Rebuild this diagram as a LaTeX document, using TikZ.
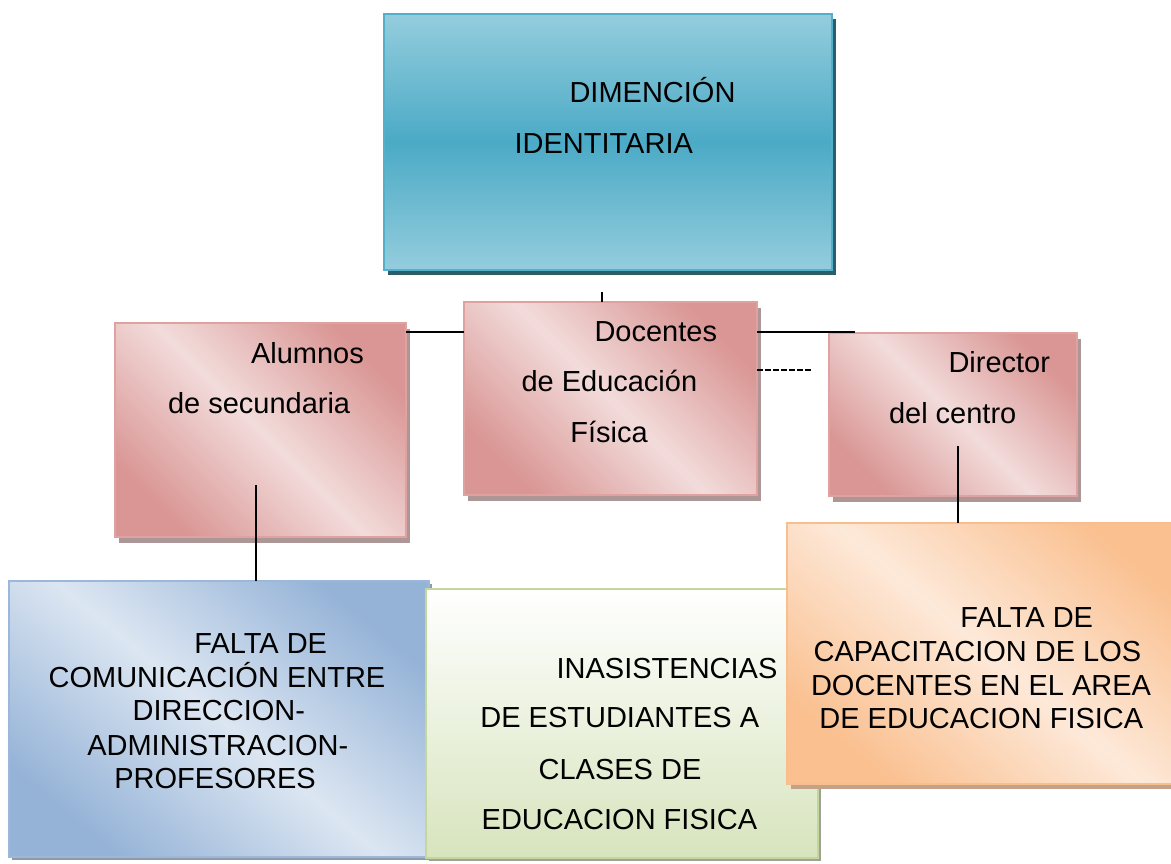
\documentclass[tikz,border=0pt]{standalone}
\usepackage{fontspec}
\setmainfont{Liberation Sans}
\usetikzlibrary{shadows}
\definecolor{topL}{HTML}{94CDDD}
\definecolor{topD}{HTML}{4BAAC6}
\definecolor{topB}{HTML}{52B0CA}
\definecolor{topS}{HTML}{2B5D6B}
\definecolor{pinkL}{HTML}{F2DCDB}
\definecolor{pinkD}{HTML}{D99694}
\definecolor{pinkB}{HTML}{DFA2A1}
\definecolor{pinkS}{HTML}{AC9696}
\definecolor{blueL}{HTML}{DCE6F2}
\definecolor{blueD}{HTML}{95B3D7}
\definecolor{blueB}{HTML}{9BB7DA}
\definecolor{blueS}{HTML}{8E9AA8}
\definecolor{greenD}{HTML}{D7E4BD}
\definecolor{greenB}{HTML}{C3D69B}
\definecolor{greenS}{HTML}{9EA294}
\definecolor{orL}{HTML}{FDE9D9}
\definecolor{orD}{HTML}{FAC090}
\definecolor{orB}{HTML}{F9BE8E}
\definecolor{orS}{HTML}{C4A28A}
\begin{document}
\begin{tikzpicture}[x=1pt,y=-1pt,
  box/.style={rectangle, inner sep=0pt, outer sep=0pt, line width=2pt, anchor=north west},
  topbox/.style={box, draw=topB, top color=topL, bottom color=topL, middle color=topD,
    drop shadow={shadow xshift=4pt, shadow yshift=-5pt, fill=topS, opacity=1}},
  pinkbox/.style={box, draw=pinkB, top color=pinkD, bottom color=pinkD, middle color=pinkL, shading angle=-45,
    drop shadow={shadow xshift=4pt, shadow yshift=-6pt, fill=pinkS, opacity=1}},
  bluebox/.style={box, draw=blueB, top color=blueD, bottom color=blueD, middle color=blueL, shading angle=-40,
    drop shadow={shadow xshift=3pt, shadow yshift=-3pt, fill=blueS, opacity=1}},
  greenbox/.style={box, draw=greenB, top color=white, bottom color=greenD,
    drop shadow={shadow xshift=3pt, shadow yshift=-3pt, fill=greenS, opacity=1}},
  orbox/.style={box, draw=orB, top color=orD, bottom color=orD, middle color=orL, shading angle=-40,
    drop shadow={shadow xshift=4pt, shadow yshift=-5pt, fill=orS, opacity=1}},
  txt/.style={inner sep=0pt, outer sep=0pt, anchor=base west, font=\fontsize{29}{34}\selectfont, text=black},
  link/.style={draw=black, line width=1.8pt},
  dlink/.style={link, dash pattern=on 5.5pt off 2.5pt}]
\useasboundingbox (0,0) rectangle (1171,864);
\clip (0,0) rectangle (1171,864);
\fill[white] (0,0) rectangle (1171,864);

% boxes
\node (top) [topbox, minimum width=448pt, minimum height=256pt] at (384,14) {};
\node (alumnos) [pinkbox, minimum width=291pt, minimum height=214pt] at (115,323) {};
\node (docentes) [pinkbox, minimum width=293pt, minimum height=193pt] at (464,302) {};
\node (director) [pinkbox, minimum width=248pt, minimum height=163pt] at (829,333) {};
\node (blue) [bluebox, minimum width=420pt, minimum height=276pt] at (9,581) {};
\node (green) [greenbox, minimum width=392pt, minimum height=269pt] at (426,589) {};
\node (orange) [orbox, minimum width=405pt, minimum height=261pt] at (787,523) {};

% connectors
\coordinate (stub) at (602,292);
\coordinate (y332) at (0,332);
\coordinate (y370) at (0,370);
\coordinate (rend) at (855,332);
\coordinate (dend) at (812,370);
\coordinate (astart) at (256,485);
\coordinate (dstart) at (958,446);
\draw[link] (stub) -- (stub |- docentes.north);
\draw[link] (alumnos.east |- y332) -- (docentes.west |- y332);
\draw[link] (docentes.east |- y332) -- (rend);
\draw[dlink] (docentes.east |- y370) -- (dend);
\draw[link] (astart) -- (astart |- blue.north);
\draw[link] (dstart) -- (dstart |- orange.north);

% texts
\node (t1) [txt] at (569.5,103) {DIMENCIÓN};
\node (t2) [txt] at (514.6,154) {IDENTITARIA};
\node (t3) [txt] at (251,363) {Alumnos};
\node (t4) [txt] at (168,413) {de secundaria};
\node (t5) [txt] at (594.5,341) {Docentes};
\node (t6) [txt] at (521.5,391) {de Educación};
\node (t7) [txt] at (570.4,442) {Física};
\node (t8) [txt] at (948.5,372) {Director};
\node (t9) [txt] at (889,423) {del centro};
\node (t10) [txt] at (194.4,653) {FALTA DE};
\node (t11) [txt] at (48.6,687) {COMUNICACIÓN ENTRE};
\node (t12) [txt] at (132.7,720) {DIRECCION-};
\node (t13) [txt] at (87.3,755) {ADMINISTRACION-};
\node (t14) [txt] at (114.4,788) {PROFESORES};
\node (t15) [txt] at (556.6,678) {INASISTENCIAS};
\node (t16) [txt] at (480.4,727) {DE ESTUDIANTES A};
\node (t17) [txt] at (538.6,779) {CLASES DE};
\node (t18) [txt] at (481.7,829) {EDUCACION FISICA};
\node (t19) [txt] at (960.4,627) {FALTA DE};
\node (t20) [txt] at (813.6,661) {CAPACITACION DE LOS};
\node (t21) [txt] at (811,695) {DOCENTES EN EL AREA};
\node (t22) [txt] at (819.4,728) {DE EDUCACION FISICA};
\end{tikzpicture}
\end{document}
